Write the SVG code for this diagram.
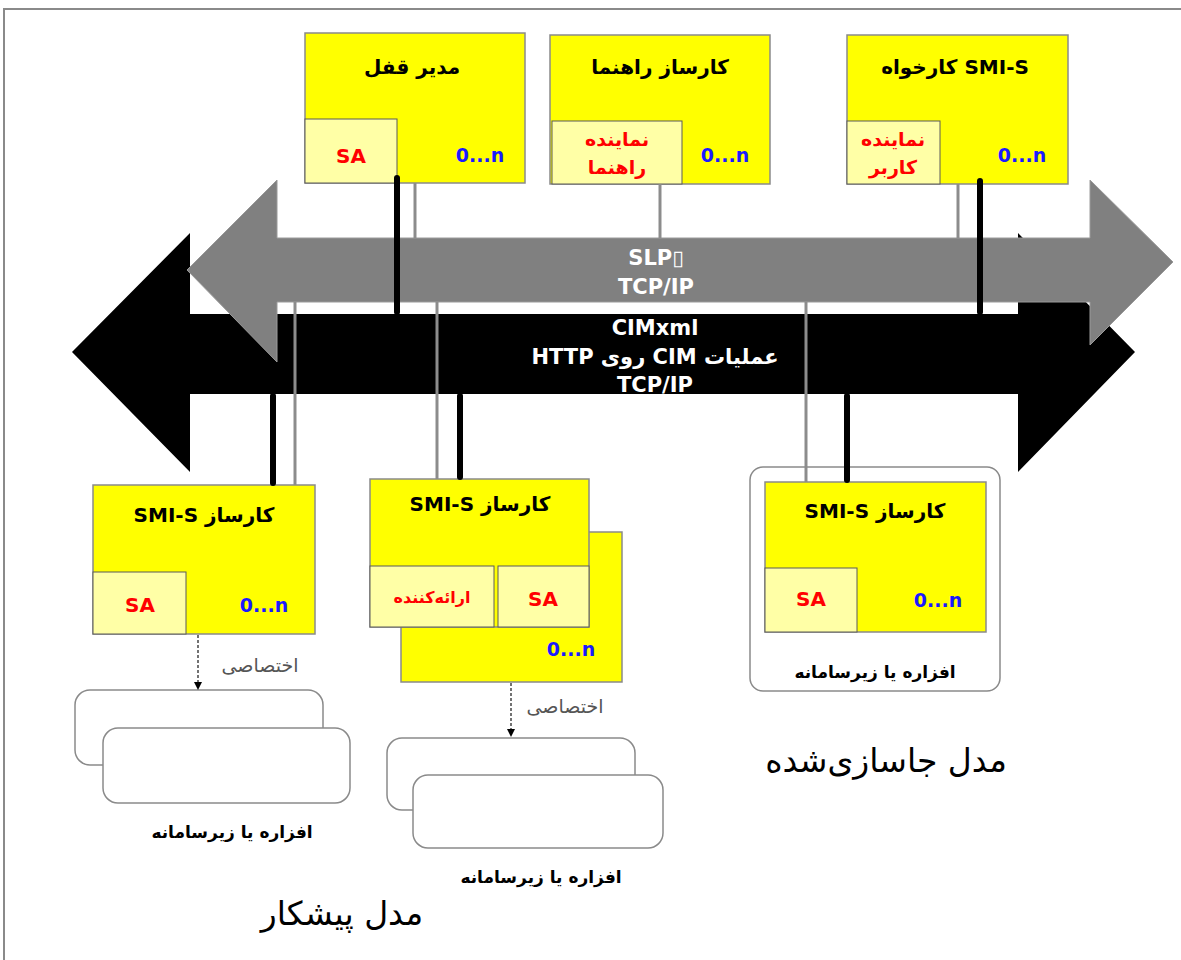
<svg xmlns="http://www.w3.org/2000/svg" width="1181" height="960" viewBox="0 0 1181 960">
  <style>
    .fa { font-family: "DejaVu Sans", "Noto Sans", sans-serif; }
    .title { font-size: 20px; font-weight: bold; fill: #000; text-anchor: middle; }
    .sa { font-size: 20px; font-weight: bold; fill: #ff0000; text-anchor: middle; }
    .red { font-size: 19px; font-weight: bold; fill: #ff0000; text-anchor: middle; }
    .red-s { font-size: 16px; font-weight: bold; fill: #ff0000; text-anchor: middle; }
    .num { font-size: 19px; font-weight: bold; fill: #1a1aff; text-anchor: middle; }
    .bus { font-size: 21px; font-weight: bold; fill: #fff; text-anchor: middle; }
    .dev { font-size: 17px; font-weight: bold; fill: #000; text-anchor: middle; }
    .prop { font-size: 19px; fill: #555; text-anchor: middle; }
    .model { font-size: 33px; fill: #000; text-anchor: middle; }
    .box { fill: #ffff00; stroke: #8a8a8a; stroke-width: 1.5; }
    .sub { fill: #ffffa6; stroke: #5a5a5a; stroke-width: 1; }
    .shell { fill: #fff; stroke: #8a8a8a; stroke-width: 1.5; }
    .thick { stroke: #000; stroke-width: 6; stroke-linecap: round; fill: none; }
    .thin { stroke: #8c8c8c; stroke-width: 3; fill: none; }
    .dash { stroke: #444; stroke-width: 1.5; stroke-dasharray: 3 2; fill: none; }
  </style>

  <rect width="1181" height="960" fill="#fff"/>
  <!-- page frame -->
  <path d="M4,960 V9 H1181" fill="none" stroke="#8a8a8a" stroke-width="2"/>

  <!-- protocol buses -->
  <g id="bus-cim">
    <polygon points="72,352 190,233 190,314 1018,314 1018,233 1135,352 1018,472 1018,394 190,394 190,472" fill="#000"/>
    <text class="fa bus" x="655" y="335">CIMxml</text>
    <text class="fa bus" x="655" y="364" direction="rtl">عملیات CIM روی HTTP</text>
    <text class="fa bus" x="655" y="392">TCP/IP</text>
  </g>
  <g id="bus-slp">
    <polygon points="187,270 277,180 277,238 1090,238 1090,180 1173,262 1090,345 1090,302 277,302 277,362" fill="#808080" stroke="#9a9a9a" stroke-width="1"/>
    <text class="fa bus" x="656" y="265">SLP▯</text>
    <text class="fa bus" x="656" y="294">TCP/IP</text>
  </g>

  <!-- lock manager -->
  <g id="lock-manager">
    <rect class="box" x="305" y="33" width="220" height="150"/>
    <rect class="sub" x="305" y="119" width="92" height="64"/>
    <text class="fa title" x="412" y="74">مدیر قفل</text>
    <text class="fa sa" x="351" y="163">SA</text>
    <text class="fa num" x="480" y="162">0...n</text>
  </g>

  <!-- directory server -->
  <g id="directory-server">
    <rect class="box" x="550" y="35" width="220" height="149"/>
    <rect class="sub" x="552" y="121" width="130" height="63"/>
    <text class="fa title" x="660" y="74">کارساز راهنما</text>
    <text class="fa red" x="617" y="146">نماینده</text>
    <text class="fa red" x="617" y="174">راهنما</text>
    <text class="fa num" x="725" y="162">0...n</text>
  </g>

  <!-- SMI-S client -->
  <g id="smis-client">
    <rect class="box" x="847" y="35" width="221" height="149"/>
    <rect class="sub" x="847" y="121" width="93" height="63"/>
    <text class="fa title" x="955" y="74">کارخواه SMI-S</text>
    <text class="fa red" x="893" y="146">نماینده</text>
    <text class="fa red" x="893" y="174">کاربر</text>
    <text class="fa num" x="1022" y="162">0...n</text>
  </g>

  <!-- proxy SMI-S server -->
  <g id="proxy-server-left">
    <rect class="box" x="93" y="485" width="222" height="149"/>
    <rect class="sub" x="93" y="572" width="93" height="62"/>
    <text class="fa title" x="204" y="522" direction="rtl">کارساز SMI-S</text>
    <text class="fa sa" x="140" y="612">SA</text>
    <text class="fa num" x="264" y="612">0...n</text>
  </g>

  <!-- proxy SMI-S server with providers -->
  <g id="proxy-server-middle">
    <rect class="box" x="401" y="532" width="221" height="150"/>
    <rect class="box" x="370" y="479" width="219" height="148"/>
    <rect class="sub" x="370" y="566" width="124" height="61"/>
    <rect class="sub" x="498" y="566" width="91" height="61"/>
    <text class="fa title" x="480" y="511" direction="rtl">کارساز SMI-S</text>
    <text class="fa red-s" x="432" y="603">ارائه‌کننده</text>
    <text class="fa sa" x="543" y="606">SA</text>
    <text class="fa num" x="571" y="656">0...n</text>
  </g>

  <!-- embedded SMI-S server -->
  <g id="embedded-server">
    <rect class="shell" x="750" y="467" width="250" height="224" rx="13"/>
    <rect class="box" x="765" y="482" width="221" height="150"/>
    <rect class="sub" x="765" y="568" width="92" height="64"/>
    <text class="fa title" x="875" y="518" direction="rtl">کارساز SMI-S</text>
    <text class="fa sa" x="811" y="606">SA</text>
    <text class="fa num" x="938" y="607">0...n</text>
    <text class="fa dev" x="875" y="678">افزاره یا زیرسامانه</text>
  </g>

  <!-- managed devices -->
  <g id="devices-left">
    <rect class="shell" x="75" y="690" width="248" height="75" rx="15"/>
    <rect class="shell" x="103" y="728" width="247" height="75" rx="15"/>
    <text class="fa dev" x="232" y="838">افزاره یا زیرسامانه</text>
  </g>
  <g id="devices-middle">
    <rect class="shell" x="387" y="738" width="248" height="72" rx="15"/>
    <rect class="shell" x="413" y="775" width="250" height="73" rx="15"/>
    <text class="fa dev" x="541" y="883">افزاره یا زیرسامانه</text>
  </g>

  <!-- connectors -->
  <g id="connectors">
    <line class="thick" x1="397" y1="178" x2="397" y2="312"/>
    <line class="thin" x1="415" y1="183" x2="415" y2="238"/>
    <line class="thin" x1="660" y1="184" x2="660" y2="238"/>
    <line class="thin" x1="958" y1="184" x2="958" y2="238"/>
    <line class="thick" x1="980" y1="181" x2="980" y2="312"/>

    <line class="thick" x1="273" y1="396" x2="273" y2="483"/>
    <line class="thin" x1="295" y1="302" x2="295" y2="485"/>
    <line class="thin" x1="437" y1="302" x2="437" y2="479"/>
    <line class="thick" x1="460" y1="396" x2="460" y2="477"/>
    <line class="thin" x1="806" y1="302" x2="806" y2="482"/>
    <line class="thick" x1="847" y1="396" x2="847" y2="480"/>

    <line class="dash" x1="198" y1="635" x2="198" y2="684"/>
    <path d="M194,682 L202,682 L198,690 Z" fill="#000"/>
    <text class="fa prop" x="260" y="672">اختصاصی</text>

    <line class="dash" x1="511" y1="683" x2="511" y2="731"/>
    <path d="M507,729 L515,729 L511,737 Z" fill="#000"/>
    <text class="fa prop" x="565" y="713">اختصاصی</text>
  </g>

  <!-- deployment model captions -->
  <text class="fa model" x="342" y="925">مدل پیشکار</text>
  <text class="fa model" x="886" y="772">مدل جاسازی‌شده</text>
</svg>
